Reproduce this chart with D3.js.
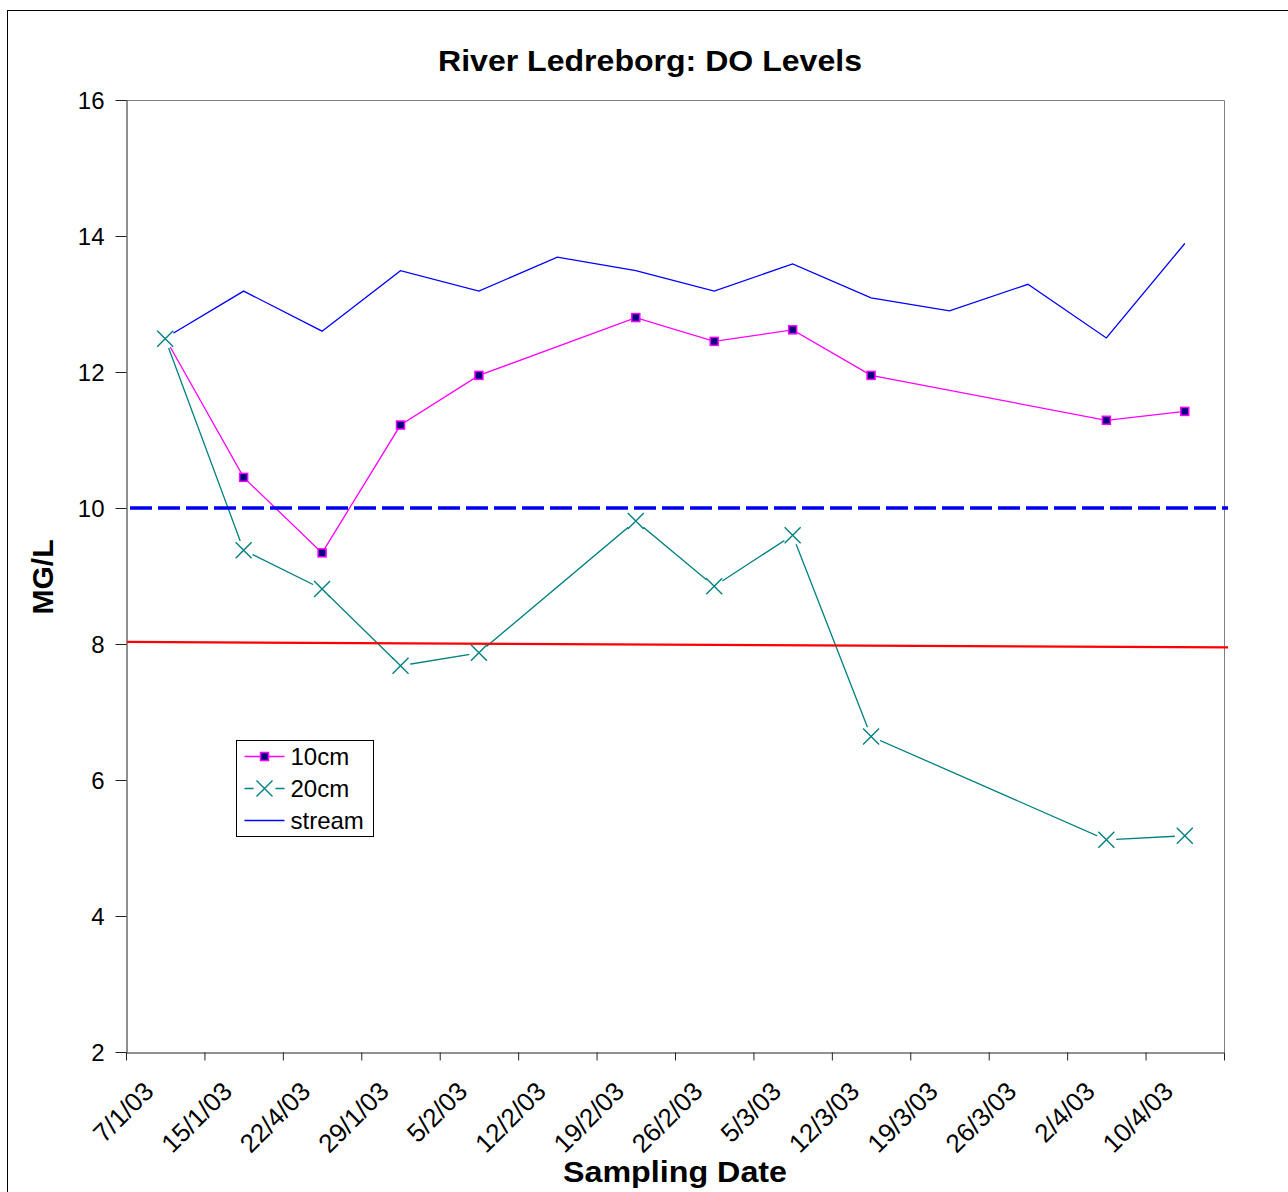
<!DOCTYPE html>
<html>
<head>
<meta charset="utf-8">
<script src="https://d3js.org/d3.v7.min.js"></script>
<style>
body { margin: 0; background: #fff; }
text { font-family: "Liberation Sans", Arial, sans-serif; fill: #000; }
</style>
</head>
<body>
<script>
// sampling dates (category axis) and DO readings in mg/L
const dates = ["7/1/03", "15/1/03", "22/4/03", "29/1/03", "5/2/03", "12/2/03", "19/2/03",
               "26/2/03", "5/3/03", "12/3/03", "19/3/03", "26/3/03", "2/4/03", "10/4/03"];
const do10cm  = [12.5, 10.45, 9.34, 11.22, 11.95, null, 12.80, 12.45, 12.62, 11.95, null, null, 11.29, 11.42];
const do20cm  = [12.49, 9.38, 8.81, 7.68, 7.87, null, 9.81, 8.85, 9.60, 6.64, null, null, 5.12, 5.18];
const doStream = [12.5, 13.19, 12.60, 13.49, 13.19, 13.69, 13.49, 13.19, 13.59, 13.09, 12.90, 13.29, 12.50, 13.89];
const yTicks = [2, 4, 6, 8, 10, 12, 14, 16];
const limitLevel = 10;          // dashed blue line
const redLevels = [8.03, 7.95]; // red line, left end / right end

const W = 1288, H = 1192;
const plot = {left: 126, right: 1224, top: 100, bottom: 1052};

const svg = d3.select("body").append("svg")
  .attr("width", W).attr("height", H);

// outer chart frame (right and bottom edges fall off the picture)
svg.append("rect")
  .attr("x", 7.5).attr("y", 10.5)
  .attr("width", 1400).attr("height", 1400)
  .attr("fill", "#fff").attr("stroke", "#000").attr("stroke-width", 1);

const x = d3.scaleBand().domain(dates).range([plot.left, plot.right]).padding(0);
const cx = d => x(d) + x.bandwidth() / 2;
const y = d3.scaleLinear().domain([2, 16]).range([plot.bottom, plot.top]);

// plot area border (top and right in grey)
svg.append("path")
  .attr("d", `M${plot.left},${plot.top + 0.5}H${plot.right + 0.5}V${plot.bottom}`)
  .attr("fill", "none").attr("stroke", "#808080").attr("stroke-width", 1);

// y axis
const yAxis = svg.append("g")
  .attr("transform", `translate(${plot.left + 0.5},0)`)
  .call(d3.axisLeft(y).tickValues(yTicks).tickSize(11).tickPadding(11).tickSizeOuter(0));
yAxis.selectAll("text").style("font-size", "24px").attr("dy", "0.35em");
yAxis.selectAll("line, path").attr("stroke", "#222");

// x axis: tick marks on category boundaries, labels at category centres
const xEdges = d3.scaleLinear().domain([0, dates.length]).range([plot.left, plot.right]);
const xTickAxis = svg.append("g")
  .attr("transform", `translate(0,${plot.bottom + 0.5})`)
  .call(d3.axisBottom(xEdges).tickValues(d3.range(dates.length + 1)).tickFormat("").tickSize(8).tickSizeOuter(0));
xTickAxis.selectAll("line, path").attr("stroke", "#222");

const xLabAxis = svg.append("g")
  .attr("transform", `translate(0,${plot.bottom})`)
  .call(d3.axisBottom(x).tickSize(0));
xLabAxis.select(".domain").remove();
xLabAxis.selectAll("text")
  .style("font-size", "26px")
  .attr("text-anchor", "end")
  .attr("x", 0).attr("y", 0).attr("dy", 0)
  .attr("transform", "translate(-10,41) rotate(-45)");

// series lines (gaps are bridged)
const line = d3.line().x(d => cx(d.date)).y(d => y(d.v));
const pts = arr => dates.map((d, i) => ({date: d, v: arr[i]})).filter(d => d.v != null);

const series = [
  {name: "10cm", data: pts(do10cm), color: "#FF00FF"},
  {name: "20cm", data: pts(do20cm), color: "#008080"},
  {name: "stream", data: pts(doStream), color: "#0000FF"}
];

svg.selectAll("path.series")
  .data(series)
  .join("path")
  .attr("class", "series")
  .attr("d", d => line(d.data))
  .attr("fill", "none")
  .attr("stroke", d => d.color)
  .attr("stroke-width", 1.3);

// 10cm square markers
svg.selectAll("rect.m10")
  .data(series[0].data)
  .join("rect")
  .attr("class", "m10")
  .attr("x", d => cx(d.date) - 4).attr("y", d => y(d.v) - 4)
  .attr("width", 8).attr("height", 8)
  .attr("fill", "#000080").attr("stroke", "#FF00FF").attr("stroke-width", 1.5);

// 20cm X markers, drawn on a white patch like the original
const xMark = svg.selectAll("g.m20")
  .data(series[1].data)
  .join("g")
  .attr("class", "m20")
  .attr("transform", d => `translate(${cx(d.date)},${y(d.v)})`);
xMark.append("circle").attr("r", 10).attr("fill", "#fff");
xMark.append("path")
  .attr("d", "M-8,-8L8,8M-8,8L8,-8")
  .attr("stroke", "#008080").attr("stroke-width", 1.4);

// red reference line
svg.append("line")
  .attr("x1", plot.left + 1).attr("x2", plot.right + 4)
  .attr("y1", y(redLevels[0])).attr("y2", y(redLevels[1]))
  .attr("stroke", "#FF0000").attr("stroke-width", 2.2);

// dashed 10 mg/L line
svg.append("line")
  .attr("x1", plot.left + 4).attr("x2", plot.right + 4)
  .attr("y1", y(limitLevel)).attr("y2", y(limitLevel))
  .attr("stroke", "#0000EE").attr("stroke-width", 3.6)
  .attr("stroke-dasharray", "22,6");

// titles
svg.append("text")
  .attr("x", 650).attr("y", 71)
  .attr("text-anchor", "middle")
  .attr("textLength", 424).attr("lengthAdjust", "spacingAndGlyphs")
  .style("font-size", "29px").style("font-weight", "bold")
  .text("River Ledreborg: DO Levels");

svg.append("text")
  .attr("x", 675).attr("y", 1182)
  .attr("text-anchor", "middle")
  .attr("textLength", 224).attr("lengthAdjust", "spacingAndGlyphs")
  .style("font-size", "30px").style("font-weight", "bold")
  .text("Sampling Date");

svg.append("text")
  .attr("transform", "translate(53,577) rotate(-90)")
  .attr("text-anchor", "middle")
  .style("font-size", "30px").style("font-weight", "bold")
  .text("MG/L");

// legend
const lg = svg.append("g").attr("transform", "translate(236.5,740.5)");
lg.append("rect")
  .attr("width", 137).attr("height", 96)
  .attr("fill", "#fff").attr("stroke", "#000").attr("stroke-width", 1);

const rows = lg.selectAll("g.row")
  .data(series)
  .join("g")
  .attr("class", "row")
  .attr("transform", (d, i) => `translate(0,${16 + i * 32})`);

rows.append("line")
  .attr("x1", 8).attr("x2", 48)
  .attr("stroke", d => d.color).attr("stroke-width", 1.3)
  .attr("stroke-dasharray", d => d.name === "20cm" ? "9,22,9" : null);
rows.filter(d => d.name === "10cm").append("rect")
  .attr("x", 24).attr("y", -4).attr("width", 8).attr("height", 8)
  .attr("fill", "#000080").attr("stroke", "#FF00FF").attr("stroke-width", 1.5);
rows.filter(d => d.name === "20cm").append("path")
  .attr("d", "M20,-8L36,8M20,8L36,-8")
  .attr("stroke", "#008080").attr("stroke-width", 1.4);
rows.append("text")
  .attr("x", 54).attr("dy", "0.35em")
  .style("font-size", "24px")
  .text(d => d.name);
</script>
</body>
</html>
